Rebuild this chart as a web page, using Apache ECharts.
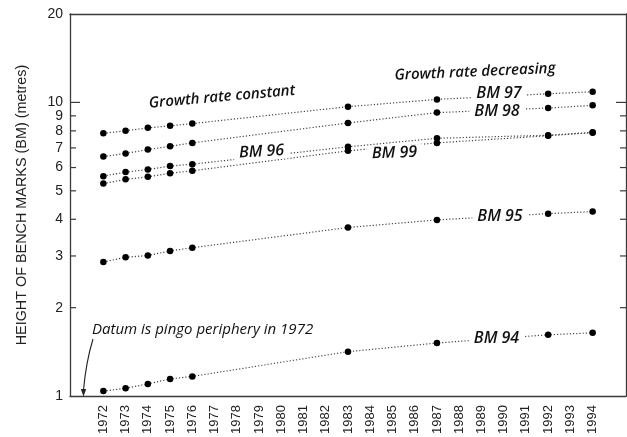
<!DOCTYPE html>
<html>
<head>
<meta charset="utf-8">
<script src="https://cdn.jsdelivr.net/npm/echarts@6/dist/echarts.min.js"></script>
<style>
html,body{margin:0;padding:0;background:#fff;}
#main{width:627px;height:437px;}
</style>
</head>
<body>
<div id="main"></div>
<script>
// ---- data ----
const years = ['1971','1972','1973','1974','1975','1976','1977','1978','1979','1980','1981','1982','1983','1984','1985','1986','1987','1988','1989','1990','1991','1992','1993','1994','1995'];
const surveyYears = ['1972','1973','1974','1975','1976','1983','1987','1992','1994'];
const bm94 = [1.04, 1.063, 1.10, 1.144, 1.167, 1.416, 1.516, 1.617, 1.642];
const bm95 = [2.86, 2.97, 3.01, 3.12, 3.20, 3.75, 3.98, 4.18, 4.25];
const bm96 = [5.61, 5.79, 5.91, 6.07, 6.16, 7.06, 7.55, 7.73, 7.91];
const bm97 = [7.85, 8.00, 8.19, 8.32, 8.47, 9.67, 10.24, 10.70, 10.87];
const bm98 = [6.54, 6.70, 6.91, 7.09, 7.28, 8.51, 9.23, 9.57, 9.77];
const bm99 = [5.29, 5.47, 5.58, 5.74, 5.85, 6.84, 7.28, 7.70, 7.89];
const yTickValues = [1, 2, 3, 4, 5, 6, 7, 8, 9, 10, 20];
const yMajorTicks = [1, 10, 20];

// ---- chart ----
const axisColor = '#3a3a3a';
const chart = echarts.init(document.getElementById('main'));

function mkSeries(name, vals) {
  return {
    name: name,
    type: 'line',
    data: surveyYears.map((y, i) => [y, vals[i]]),
    symbol: 'circle',
    symbolSize: 6.5,
    showAllSymbol: true,
    connectNulls: true,
    itemStyle: { color: '#000' },
    lineStyle: { color: '#444', width: 1.2, type: [1.2, 2] },
    z: 3
  };
}

const hiddenLbl = v => (v === years[0] || v === years[years.length - 1]) ? '' : v;

chart.setOption({
  animation: false,
  grid: { left: 70, right: 1, top: 14, bottom: 40 },
  xAxis: [{
    type: 'category', data: years, boundaryGap: true,
    axisLine: { lineStyle: { color: axisColor, width: 1.3 } },
    axisTick: { inside: true, length: 5, lineStyle: { color: axisColor } },
    axisLabel: { interval: 0, rotate: 90, fontSize: 13, fontFamily: 'Liberation Sans', color: '#222', margin: 9, formatter: hiddenLbl },
    splitLine: { show: false }
  }, {
    type: 'category', data: years, boundaryGap: true, position: 'top',
    axisLine: { lineStyle: { color: axisColor, width: 1.3 } },
    axisTick: { inside: true, length: 5, lineStyle: { color: axisColor } },
    axisLabel: { show: false },
    splitLine: { show: false }
  }],
  yAxis: [{
    type: 'log', logBase: 10, min: 1, max: 20,
    axisLine: { show: true, lineStyle: { color: axisColor, width: 1.3 } },
    axisTick: { show: false }, axisLabel: { show: false }, splitLine: { show: false },
    name: 'HEIGHT OF BENCH MARKS (BM) (metres)', nameLocation: 'middle', nameGap: 41,
    nameTextStyle: { fontSize: 14.4, fontFamily: 'Liberation Sans', color: '#222' }
  }, {
    type: 'log', logBase: 10, min: 1, max: 20, position: 'right',
    axisLine: { show: true, lineStyle: { color: axisColor, width: 1.3 } },
    axisTick: { show: false }, axisLabel: { show: false }, splitLine: { show: false }
  }],
  series: [
    mkSeries('BM 97', bm97),
    mkSeries('BM 98', bm98),
    mkSeries('BM 96', bm96),
    mkSeries('BM 99', bm99),
    mkSeries('BM 95', bm95),
    mkSeries('BM 94', bm94)
  ]
});

// ---- y ticks & labels (positions from the log axis) ----
const rect = chart.getModel().getComponent('grid').coordinateSystem.getRect();
const xl = rect.x, xr = rect.x + rect.width;
const g = [];
yTickValues.forEach(v => {
  const py = chart.convertToPixel({ yAxisIndex: 0 }, v);
  const len = yMajorTicks.indexOf(v) >= 0 ? 10 : 6;
  if (v !== 1 && v !== 20) {
    g.push({ type: 'line', shape: { x1: xl, y1: py, x2: xl + len, y2: py }, style: { stroke: axisColor, lineWidth: 1.2 }, z: 50 });
    g.push({ type: 'line', shape: { x1: xr - len, y1: py, x2: xr, y2: py }, style: { stroke: axisColor, lineWidth: 1.2 }, z: 50 });
  }
  g.push({ type: 'text', x: xl - 7, y: py, style: { text: String(v), fontSize: 14, fontFamily: 'Liberation Sans', fill: '#222', align: 'right', verticalAlign: 'middle' }, z: 50 });
});

// ---- annotations ----
const annFont = 'Open Sans';
function ann(text, cx, cy, size, weight, rotDeg) {
  return {
    type: 'text', x: cx, y: cy, rotation: (rotDeg || 0) * Math.PI / 180, z: 60,
    style: {
      text: text, fontSize: size, fontFamily: annFont, fontStyle: 'italic', fontWeight: weight,
      fill: '#111', align: 'center', verticalAlign: 'middle',
      backgroundColor: '#fff', padding: [0, 5]
    }
  };
}
g.push(ann('Growth rate constant', 222, 97, 15, 600, 5));
g.push(ann('Growth rate decreasing', 475, 72, 15, 600, 2.5));
g.push(ann('BM 97', 499, 93.5, 16, 600, 0));
g.push(ann('BM 98', 497, 111.5, 16, 600, 0));
g.push(ann('BM 96', 261.5, 151.7, 16, 600, 3));
g.push(ann('BM 99', 394.5, 153, 16, 600, 2));
g.push(ann('BM 95', 500, 216.7, 16, 600, 0));
g.push(ann('BM 94', 496.5, 338, 16, 600, 0));
g.push({
  type: 'text', x: 92, y: 330, z: 60,
  style: { text: 'Datum is pingo periphery in 1972', fontSize: 15, fontFamily: annFont, fontStyle: 'italic', fill: '#111', align: 'left', verticalAlign: 'middle' }
});
g.push({ type: 'bezierCurve', shape: { x1: 93, y1: 339, cpx1: 86, cpy1: 362, x2: 83.5, y2: 390 }, style: { stroke: '#222', lineWidth: 1.1, fill: null }, z: 60 });
g.push({ type: 'polygon', shape: { points: [[80.8, 389], [86.2, 389], [83.5, 396.5]] }, style: { fill: '#222' }, z: 60 });

chart.setOption({ graphic: g });
</script>
</body>
</html>
